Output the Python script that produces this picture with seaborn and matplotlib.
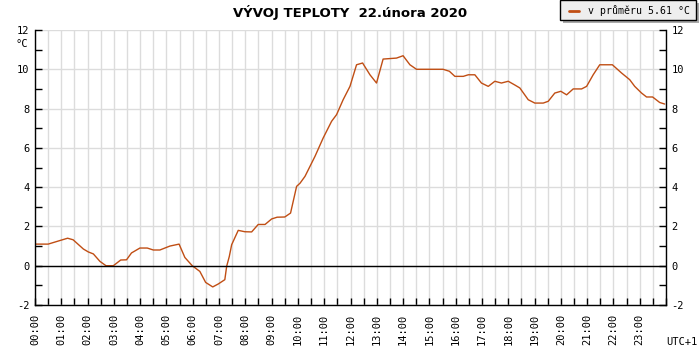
import matplotlib
matplotlib.use("Agg")
import matplotlib.pyplot as plt
import seaborn as sns
import pandas as pd
import numpy as np
from matplotlib.ticker import MultipleLocator, FixedLocator
from matplotlib.lines import Line2D
from matplotlib.patches import Rectangle

# ---- data ----
hours = [0.0, 0.5, 1.24, 1.45, 1.84, 2.03, 2.22, 2.47, 2.7, 2.98, 3.26, 3.48, 3.67,
         3.99, 4.27, 4.5, 4.75, 5.13, 5.48, 5.7, 5.98, 6.27, 6.49, 6.76, 6.97, 7.22,
         7.29, 7.39, 7.48, 7.73, 7.98, 8.24, 8.49, 8.75, 9.0, 9.21, 9.5, 9.72, 9.95,
         10.08, 10.27, 10.65, 10.96, 11.28, 11.47, 11.72, 11.98, 12.23, 12.46, 12.74,
         12.99, 13.24, 13.75, 14.0, 14.26, 14.51, 15.52, 15.76, 15.97, 16.29, 16.48,
         16.73, 16.98, 17.24, 17.49, 17.74, 18.0, 18.25, 18.44, 18.76, 19.01, 19.33,
         19.52, 19.77, 20.0, 20.22, 20.47, 20.79, 20.98, 21.23, 21.48, 21.96, 22.31,
         22.62, 22.81, 23.07, 23.26, 23.49, 23.76, 23.95]
temps = [1.1, 1.1, 1.4, 1.32, 0.85, 0.7, 0.6, 0.22, 0.0, 0.0, 0.29, 0.3, 0.65,
         0.9, 0.9, 0.8, 0.8, 1.0, 1.1, 0.42, 0.0, -0.29, -0.85, -1.08, -0.93, -0.71,
         -0.03, 0.47, 1.07, 1.8, 1.73, 1.72, 2.1, 2.1, 2.38, 2.47, 2.48, 2.68, 4.04,
         4.2, 4.55, 5.57, 6.5, 7.35, 7.69, 8.45, 9.13, 10.23, 10.32, 9.72,
         9.3, 10.52, 10.57, 10.69, 10.23, 10.0, 10.0, 9.9, 9.64, 9.64, 9.72,
         9.72, 9.3, 9.13, 9.39, 9.3, 9.39, 9.2, 9.05, 8.45, 8.28, 8.28,
         8.37, 8.79, 8.88, 8.7, 9.0, 9.0, 9.13, 9.72, 10.23, 10.23, 9.81,
         9.47, 9.13, 8.79, 8.59, 8.59, 8.31, 8.23]
hour_labels = ["%02d:00" % h for h in range(24)]
y_major = [-2, 0, 2, 4, 6, 8, 10, 12]
title = "VÝVOJ TEPLOTY  22.února 2020"
legend_label = "v průměru 5.61 °C"

df = pd.DataFrame({"hour": hours, "temp": temps})

sns.set_theme(style="white")
mono = "DejaVu Sans Mono"
plt.rcParams["font.family"] = ["DejaVu Sans", "DejaVu Sans Mono"]
plt.rcParams["text.color"] = "black"

W, H = 700, 350
fig = plt.figure(figsize=(7, 3.5), dpi=100)
ax = fig.add_axes([35/W, 45/H, 631/W, 275/H])
ax.set_facecolor("white")

line_color = "#c04e14"
sns.lineplot(data=df, x="hour", y="temp", ax=ax, color=line_color,
             linewidth=1.0, legend=False)

ax.axhline(0, color="black", linewidth=1.0, zorder=3)

ax.set_xlim(0, 24)
ax.set_ylim(-2, 12)
ax.xaxis.set_major_locator(FixedLocator(list(range(24))))
ax.xaxis.set_minor_locator(MultipleLocator(0.5))
ax.set_xticklabels(hour_labels, rotation=90, fontfamily=mono, fontsize=7.5)
ax.yaxis.set_major_locator(FixedLocator(y_major))
ax.yaxis.set_minor_locator(MultipleLocator(1))
ax.set_yticklabels([str(v) for v in y_major], fontfamily=mono, fontsize=7.5)

ax.grid(True, which="both", axis="x", color="#dcdcdc", linewidth=1.0)
ax.grid(True, which="major", axis="y", color="#dcdcdc", linewidth=1.0)
ax.set_axisbelow(True)

ax.tick_params(axis="both", which="both", direction="in", length=5, width=1,
               color="black", labelcolor="black")
ax.tick_params(axis="y", which="both", left=True, right=True, labelleft=True,
               labelright=True, pad=4)
ax.tick_params(axis="x", which="both", bottom=True, top=False, pad=6)

for s in ["left", "right", "bottom"]:
    ax.spines[s].set_visible(True)
    ax.spines[s].set_color("black")
    ax.spines[s].set_linewidth(1.0)
ax.spines["top"].set_visible(False)

ax.set_xlabel("")
ax.set_ylabel("")

fig.text(350/W, 1 - 12/H, title, ha="center", va="center", color="black",
         fontsize=9.5, fontweight="bold", family="DejaVu Sans")
fig.text(22/W, 1 - 44/H, "°C", ha="center", va="center", color="black",
         fontsize=7.5, family=mono)
fig.text(682/W, 1 - 342/H, "UTC+1", ha="center", va="center", color="black",
         fontsize=7.5, family=mono)

# legend box (drawn in figure pixel coordinates)
def px(x, y):
    return x / W, 1 - y / H

sx, sy = px(563, 23)
fig.patches.append(Rectangle((sx, sy), 136/W, 20/H, transform=fig.transFigure,
                             facecolor="#aaaaaa", edgecolor="none", zorder=1))
bx, by = px(560, 20)
fig.patches.append(Rectangle((bx, by), 136/W, 20/H, transform=fig.transFigure,
                             facecolor="#eeeeee", edgecolor="black", linewidth=1.0,
                             zorder=2))
fig.lines.append(Line2D([569/W, 579/W], [1 - 10.5/H, 1 - 10.5/H],
                        transform=fig.transFigure, color=line_color,
                        linewidth=2, zorder=3))
fig.text(588/W, 1 - 10.5/H, legend_label, ha="left", va="center", color="black",
         fontsize=7.1, family=mono, zorder=4)

fig.savefig("out.png", dpi=100)
